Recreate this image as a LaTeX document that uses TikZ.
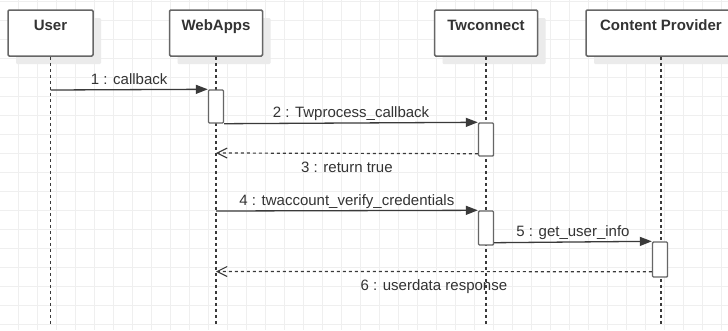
\documentclass[tikz,border=0pt]{standalone}
\usepackage{fontspec}
\setmainfont{Liberation Sans}
\usetikzlibrary{arrows.meta,shadows}
\definecolor{gridc}{HTML}{EFEFEF}
\definecolor{boxc}{HTML}{666666}
\definecolor{shadowc}{HTML}{EBEBEB}
\definecolor{linec}{HTML}{3A3A3A}
\definecolor{txtc}{HTML}{333333}
\tikzset{
  gridline/.style={draw=gridc, line width=1pt},
  hdrbox/.style={draw=boxc, line width=1.5pt, fill=white, rounded corners=1.2pt,
    minimum height=46pt, inner sep=0pt,
    drop shadow={shadow xshift=8pt, shadow yshift=-8pt, fill=shadowc, opacity=1}},
  hdrtext/.style={anchor=base, inner sep=0pt, text=txtc, font=\fontsize{15}{18}\selectfont\bfseries},
  lifeline/.style={draw=linec, line width=1.3pt, dash pattern=on 3pt off 3pt},
  actbar/.style={draw=boxc, line width=1.4pt, fill=white, rounded corners=1pt,
    minimum width=15pt, inner sep=0pt},
  msg/.style={draw=linec, line width=1.3pt, -{Triangle[length=12pt,width=9pt]}},
  ret/.style={draw=linec, line width=1.2pt, dash pattern=on 3pt off 3pt,
    -{Straight Barb[length=10pt,width=10pt,line width=1.1pt]}},
  lbl/.style={inner sep=0pt, text height=11pt, text depth=3pt, text=txtc,
    font=\fontsize{15}{18}\selectfont},
  lblabove/.style={lbl, midway, above=2pt},
  lblbelow/.style={lbl, midway, below=7.5pt},
}
\begin{document}
\begin{tikzpicture}[x=1pt,y=-1pt]
\useasboundingbox (0,0) rectangle (728,330);
\clip (0,0) rectangle (728,330);
\fill[white] (0,0) rectangle (728,330);
\foreach \i in {0,...,38} \draw[gridline] (18.7+19*\i,0) -- (18.7+19*\i,330);
\foreach \j in {0,...,17} \draw[gridline] (0,1.3+19*\j) -- (728,1.3+19*\j);

% header boxes
\node[hdrbox, minimum width=85pt] (user) at (50.5,33) {};
\node[hdrbox, minimum width=93pt] (web) at (216,33) {};
\node[hdrbox, minimum width=103pt] (tw) at (486,33) {};
\node[hdrbox, minimum width=150pt] (cp) at (661,33) {};
\node[hdrtext] (userT) at (50.5,30.5) {User};
\node[hdrtext] (webT) at (216,30.5) {WebApps};
\node[hdrtext] (twT) at (486,30.5) {Twconnect};
\node[hdrtext] (cpT) at (661,30.5) {Content Provider};

% lifelines
\coordinate (userEnd) at (50.5,324);
\coordinate (webEnd) at (216,324);
\coordinate (twEnd) at (486,324);
\coordinate (cpEnd) at (661,324);
\draw[lifeline] (user.south) -- (userEnd);
\draw[lifeline] (web.south) -- (webEnd);
\draw[lifeline] (tw.south) -- (twEnd);
\draw[lifeline] (cp.south) -- (cpEnd);

% activation bars
\node[actbar, minimum height=33pt] (act1) at (216,106.5) {};
\node[actbar, minimum height=33pt] (act2) at (486,139.5) {};
\node[actbar, minimum height=34pt] (act3) at (486,228) {};
\node[actbar, minimum height=35pt] (act4) at (660,259.5) {};

% message anchors on lifelines
\coordinate (u1) at (50.5,90);
\coordinate (w3) at (216,153);
\coordinate (w4) at (216,211);
\coordinate (w6) at (216,271.5);

% messages
\draw[msg] (u1) -- node[lblabove] (l1) {1 : callback} (act1.north west);
\draw[msg] (act1.south east) -- node[lblabove] (l2) {2 : Twprocess\_callback} (act2.north west);
\draw[ret] ([yshift=3pt]act2.south west) -- node[lblbelow] (l3) {3 : return true} (w3);
\draw[msg] (w4) -- node[lblabove] (l4) {4 : twaccount\_verify\_credentials} (act3.north west);
\draw[msg] ([yshift=3pt]act3.south east) -- node[lblabove] (l5) {5 : get\_user\_info} (act4.north west);
\draw[ret] ([yshift=6pt]act4.south west) -- node[lblbelow] (l6) {6 : userdata response} (w6);
\end{tikzpicture}
\end{document}
